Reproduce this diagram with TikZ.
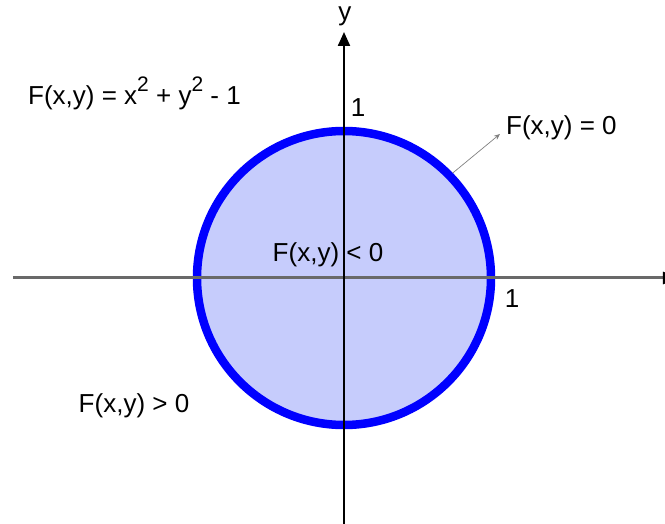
\documentclass[tikz,border=0pt]{standalone}
\usepackage{fontspec}
\setmainfont{Liberation Sans}
\usepackage{xcolor}
\usetikzlibrary{arrows.meta}
\definecolor{curveblue}{RGB}{0,0,255}
\definecolor{insidefill}{RGB}{198,204,252}
\definecolor{axisgray}{RGB}{105,105,105}
\newcommand{\sqsup}{\raisebox{0.5em}{\fontsize{21}{21}\selectfont 2}}

\begin{document}
\begin{tikzpicture}[x=1pt,y=1pt,font=\fontsize{26}{30}\selectfont,
    txt/.style={inner sep=0pt,anchor=base west}]
      \useasboundingbox (-344,-246) rectangle (321,278);
      \coordinate (O) at (0,0);
      \coordinate (W) at (-331,0);
      \coordinate (E) at (333,0);
      \coordinate (S) at (0,-250);
      \coordinate (N) at (0,246);
      \draw [line width=8.5pt, draw=curveblue, fill=insidefill] (O) circle (147);
      \draw [line width=3pt, axisgray, -{Triangle[length=14pt,width=12pt,color=black]}] (W) -- (E);
      \draw [line width=2.2pt, -{Triangle[length=14pt,width=12pt]}] (S) -- (N);
      \node [txt, anchor=base] (ylab) at (1,257) {y};
      \node [txt, anchor=base] (ytick) at (14,161) {1};
      \node [txt, anchor=base] (xtick) at (168,-30) {1};
      \node [txt] (formula) at (-316,173) {F(x,y) = x\sqsup{} + y\sqsup{} - 1};
      \node [txt, anchor=base] (inside) at (-16,16) {F(x,y) < 0};
      \node [txt, anchor=base] (outside) at (-210,-135) {F(x,y) > 0};
      \node [txt] (zero) at (162,143) {F(x,y) = 0};
      \coordinate (P) at (44:151);
      \coordinate (Q) at (156,144);
      \draw [line width=0.7pt, gray, -{Stealth[length=6pt,width=5pt]}] (P) -- (Q);
    \end{tikzpicture}
\end{document}
